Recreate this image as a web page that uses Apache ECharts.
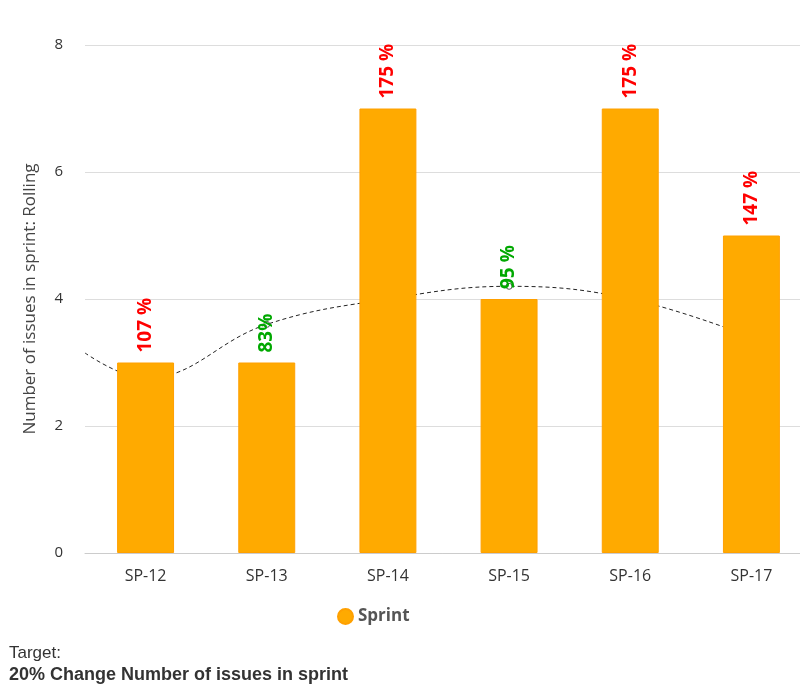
<!DOCTYPE html>
<html>
<head>
<meta charset="utf-8">
<script src="https://cdn.jsdelivr.net/npm/echarts@6/dist/echarts.min.js"></script>
<style>html,body{margin:0;padding:0;background:#fff;}#chart{width:800px;height:700px;}</style>
</head>
<body>
<div id="chart"></div>
<script>
const categories = ['SP-12', 'SP-13', 'SP-14', 'SP-15', 'SP-16', 'SP-17'];
const sprintValues = [3, 3, 7, 4, 7, 5];
const changeLabels = ['107 %', '83%', '175 %', '95 %', '175 %', '147 %'];
const changePercent = [107, 83, 175, 95, 175, 147];
const rollingX = [-0.5, 0, 1, 2, 3, 4, 5];
const rollingValues = [3.15, 2.75, 3.6, 4.0, 4.2, 4.0, 3.4];
const yTicks = [0, 2, 4, 6, 8];

const chart = echarts.init(document.getElementById('chart'));
chart.setOption({
  animation: false,
  grid: { left: 85, right: -12, top: 45, bottom: 147, outerBoundsMode: 'none', containLabel: false },
  legend: {
    data: ['Sprint'], left: 332, top: 603, icon: 'circle', itemWidth: 15, itemHeight: 15, itemGap: 5,
    textStyle: { fontFamily: 'Open Sans', fontSize: 17, fontWeight: 'bold', color: '#555' }
  },
  xAxis: [{
    type: 'category', data: categories,
    axisLine: { lineStyle: { color: '#ccc' } }, axisTick: { show: false },
    axisLabel: { fontFamily: 'Open Sans', fontSize: 16, color: '#333', margin: 15 }
  }, {
    type: 'value', min: -0.5, max: 5.5, show: false
  }],
  yAxis: {
    type: 'value', min: yTicks[0], max: yTicks[yTicks.length - 1], interval: 2,
    name: 'Number of issues in sprint: Rolling', nameLocation: 'middle', nameGap: 46,
    nameTextStyle: { fontFamily: 'Open Sans', fontSize: 17, color: '#444' },
    axisLine: { show: false }, axisTick: { show: false },
    axisLabel: { fontFamily: 'Open Sans', fontSize: 15, color: '#333', margin: 22 },
    splitLine: { lineStyle: { color: '#ddd' } }
  },
  series: [{
    name: 'Rolling', type: 'line', xAxisIndex: 1, z: 1,
    data: rollingX.map((x, i) => i === 0 ? { value: [x, rollingValues[i]], symbol: 'none' } : [x, rollingValues[i]]),
    smooth: 0.4, symbol: 'circle', symbolSize: 6, showSymbol: true,
    itemStyle: { color: '#fff', borderColor: '#555', borderWidth: 1 },
    lineStyle: { color: '#222', width: 1, type: [4, 3] },
    silent: true
  }, {
    name: 'Sprint', type: 'bar', z: 3, barWidth: '47%',
    data: sprintValues.map((v, i) => ({
      value: v,
      label: { color: changePercent[i] > 100 ? '#f00' : '#00a800' }
    })),
    itemStyle: { color: '#ffaa00', borderColor: '#ffa000', borderWidth: 1 },
    label: {
      show: true, position: 'top', rotate: 90, align: 'left', verticalAlign: 'middle', distance: 10,
      fontFamily: 'Open Sans', fontSize: 19, fontWeight: 'bold',
      formatter: p => changeLabels[p.dataIndex]
    }
  }],
  graphic: [{
    type: 'text', left: 9, top: 645,
    style: { text: 'Target:', font: '17px "Liberation Sans", Arial', fill: '#333' }
  }, {
    type: 'text', left: 9, top: 666,
    style: { text: '20% Change Number of issues in sprint', font: 'bold 18px "Liberation Sans", Arial', fill: '#333' }
  }]
});
</script>
</body>
</html>
